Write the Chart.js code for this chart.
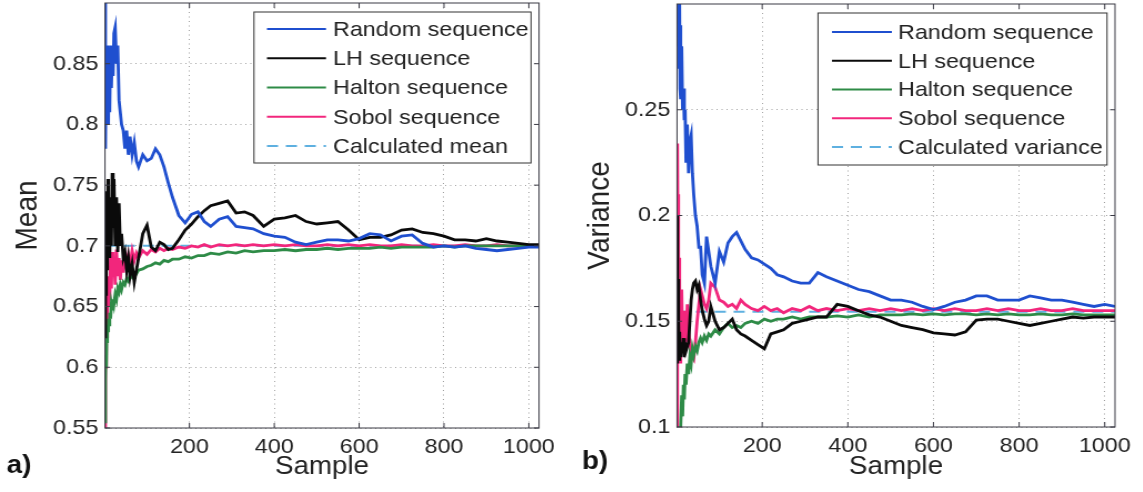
<!DOCTYPE html>
<html>
<head>
<meta charset="utf-8">
<script src="https://cdn.jsdelivr.net/npm/chart.js@4.4.1/dist/chart.umd.min.js"></script>
<style>
  html, body { margin: 0; padding: 0; background: #fff; }
  #wrap { position: relative; width: 1143px; height: 492px; overflow: hidden; }
  canvas { position: absolute; top: 0; transform-origin: 0 0; transform: scaleX(1.11); }
</style>
</head>
<body>
<div id="wrap">
  <canvas id="meanChart" width="505" height="492" style="left:0;width:505px;height:492px"></canvas>
  <canvas id="varChart" width="516" height="492" style="left:570px;width:516px;height:492px"></canvas>
</div>
<script>
const sampleIdx = [1, 2, 3, 4, 5, 6, 7, 8, 9, 10,
  12, 14, 16, 18, 20, 22,
  25, 28, 31, 34, 37, 40,
  44, 48, 52, 56, 60,
  65, 70, 75, 80,
  90, 100, 110, 120, 130, 140, 150, 160,
  175, 190, 205, 220, 235, 250,
  270, 290, 310, 330, 350,
  375, 400, 425, 450, 475, 500, 525, 550, 575, 600, 625, 650, 675,
  700, 725, 750, 775, 800, 825, 850, 875, 900, 925, 950, 975, 1000,
  1024];

const sampleTicks = [200, 400, 600, 800, 1000];

// a) running mean
const meanRandom = [0.92, 0.78, 0.83, 0.80, 0.86, 0.81, 0.865, 0.82, 0.80, 0.85,
  0.81, 0.865, 0.83, 0.86, 0.84, 0.875,
  0.88, 0.85, 0.865, 0.82, 0.81, 0.80,
  0.795, 0.78, 0.795, 0.775, 0.79,
  0.775, 0.785, 0.77, 0.765,
  0.775, 0.77, 0.772, 0.78, 0.775, 0.765, 0.752, 0.74,
  0.725, 0.719, 0.726, 0.728, 0.72, 0.716,
  0.722, 0.724, 0.716, 0.715, 0.714,
  0.71, 0.708, 0.707, 0.703, 0.701, 0.703, 0.705, 0.705, 0.704, 0.706, 0.710, 0.709, 0.704,
  0.708, 0.709, 0.702, 0.699, 0.700, 0.699, 0.700, 0.698, 0.697, 0.696, 0.697, 0.698, 0.699,
  0.699];
const meanLH = [0.625, 0.70, 0.66, 0.745, 0.69, 0.72, 0.68, 0.755, 0.71, 0.73,
  0.69, 0.74, 0.70, 0.76, 0.715, 0.755,
  0.70, 0.74, 0.695, 0.735, 0.70, 0.71,
  0.69, 0.695, 0.68, 0.69, 0.675,
  0.685, 0.67, 0.68, 0.69,
  0.71, 0.717, 0.699, 0.696, 0.703, 0.701, 0.697, 0.698,
  0.705, 0.713, 0.718, 0.724, 0.729, 0.733,
  0.735, 0.737, 0.727, 0.728, 0.725,
  0.716, 0.722, 0.723, 0.725, 0.72, 0.718, 0.719, 0.72, 0.713, 0.705, 0.707, 0.707, 0.709,
  0.713, 0.714, 0.711, 0.71, 0.708, 0.705, 0.705, 0.704, 0.706, 0.704, 0.703, 0.702, 0.701,
  0.701];
const meanHalton = [0.555, 0.59, 0.61, 0.60, 0.625, 0.62, 0.635, 0.63, 0.64, 0.635,
  0.645, 0.64, 0.652, 0.648, 0.656, 0.652,
  0.66, 0.656, 0.665, 0.662, 0.668, 0.664,
  0.67, 0.668, 0.673, 0.671, 0.676,
  0.674, 0.678, 0.677, 0.68,
  0.681, 0.683, 0.684, 0.686, 0.685, 0.688, 0.687, 0.689,
  0.689, 0.691, 0.690, 0.692, 0.692, 0.694,
  0.693, 0.695, 0.694, 0.696, 0.695,
  0.696, 0.696, 0.697, 0.696, 0.697, 0.697, 0.698, 0.697, 0.698, 0.698, 0.698, 0.699, 0.698,
  0.699, 0.699, 0.699, 0.699, 0.700, 0.699, 0.700, 0.700, 0.700, 0.700, 0.700, 0.700, 0.700,
  0.700];
const meanSobol = [0.55, 0.62, 0.60, 0.64, 0.625, 0.66, 0.64, 0.675, 0.65, 0.67,
  0.655, 0.69, 0.665, 0.695, 0.675, 0.69,
  0.668, 0.697, 0.675, 0.69, 0.672, 0.688,
  0.678, 0.695, 0.682, 0.692, 0.685,
  0.696, 0.688, 0.694, 0.69,
  0.696, 0.693, 0.697, 0.695, 0.698, 0.696, 0.698, 0.697,
  0.699, 0.698, 0.700, 0.699, 0.701, 0.699,
  0.701, 0.700, 0.701, 0.700, 0.701,
  0.700, 0.701, 0.700, 0.701, 0.700, 0.700, 0.701, 0.700, 0.701, 0.700, 0.701, 0.700, 0.700,
  0.701, 0.700, 0.700, 0.701, 0.700, 0.700, 0.701, 0.700, 0.700, 0.701, 0.700, 0.700, 0.700,
  0.700];
const calcMean = 0.70;
const meanTicks = [0.55, 0.6, 0.65, 0.7, 0.75, 0.8, 0.85];
const meanTickLabels = ['0.55', '0.6', '0.65', '0.7', '0.75', '0.8', '0.85'];

// b) running variance
const varRandom = [0.34, 0.30, 0.33, 0.28, 0.31, 0.27, 0.30, 0.26, 0.29, 0.255,
  0.28, 0.25, 0.26, 0.245, 0.25, 0.225,
  0.243, 0.22, 0.235, 0.238, 0.22, 0.21,
  0.20, 0.195, 0.185, 0.185, 0.172,
  0.168, 0.19, 0.183, 0.176,
  0.168, 0.183, 0.178, 0.187, 0.19, 0.192, 0.188, 0.184,
  0.18, 0.179, 0.177, 0.175, 0.172, 0.171,
  0.169, 0.168, 0.168, 0.173, 0.171,
  0.169, 0.167, 0.165, 0.164, 0.162, 0.160, 0.160, 0.159, 0.157, 0.1555, 0.157, 0.159, 0.160,
  0.162, 0.162, 0.160, 0.160, 0.160, 0.162, 0.161, 0.160, 0.160, 0.159, 0.158, 0.157, 0.158,
  0.157];
const varLH = [0.20, 0.13, 0.17, 0.135, 0.15, 0.132, 0.145, 0.135, 0.14, 0.133,
  0.14, 0.135, 0.142, 0.133, 0.14, 0.136,
  0.138, 0.14, 0.15, 0.16, 0.165, 0.168,
  0.169, 0.165, 0.167, 0.16, 0.155,
  0.151, 0.148, 0.15, 0.157,
  0.15, 0.146, 0.147, 0.149, 0.151, 0.146, 0.144, 0.143,
  0.141, 0.139, 0.137, 0.144, 0.145, 0.146,
  0.149, 0.150, 0.151, 0.152, 0.152,
  0.158, 0.157, 0.155, 0.153, 0.152, 0.150, 0.148, 0.147, 0.146, 0.1445, 0.144, 0.1435, 0.145,
  0.1505, 0.151, 0.151, 0.150, 0.149, 0.148, 0.149, 0.150, 0.151, 0.152, 0.1515, 0.152, 0.152,
  0.152];
const varHalton = [0.06, 0.07, 0.075, 0.08, 0.085, 0.09, 0.092, 0.095, 0.098, 0.10,
  0.115, 0.105, 0.12, 0.113, 0.125, 0.12,
  0.13, 0.125, 0.133, 0.13, 0.137, 0.134,
  0.138, 0.136, 0.14, 0.142, 0.14,
  0.143, 0.141, 0.144, 0.143,
  0.146, 0.144, 0.147, 0.149, 0.147, 0.148, 0.147, 0.149,
  0.150, 0.149, 0.151, 0.150, 0.151, 0.151,
  0.152, 0.151, 0.152, 0.152, 0.152,
  0.1525, 0.152, 0.153, 0.152, 0.153, 0.153, 0.153, 0.1535, 0.153, 0.1535, 0.153, 0.1535, 0.1535,
  0.153, 0.1535, 0.153, 0.1535, 0.153, 0.153, 0.1535, 0.153, 0.153, 0.1535, 0.153, 0.153, 0.153,
  0.153];
const varSobol = [0.10, 0.234, 0.19, 0.21, 0.16, 0.18, 0.14, 0.16, 0.13, 0.15,
  0.165, 0.14, 0.155, 0.135, 0.15, 0.14,
  0.158, 0.145, 0.14, 0.135, 0.133, 0.132,
  0.14, 0.15, 0.158, 0.165, 0.162,
  0.158, 0.156, 0.16, 0.168,
  0.166, 0.160, 0.159, 0.157, 0.158, 0.156, 0.160, 0.158,
  0.156, 0.155, 0.157, 0.155, 0.156, 0.154,
  0.156, 0.155, 0.157, 0.155, 0.156,
  0.155, 0.156, 0.155, 0.156, 0.155, 0.156, 0.155, 0.156, 0.155, 0.156, 0.155, 0.156, 0.155,
  0.155, 0.156, 0.155, 0.156, 0.155, 0.155, 0.156, 0.155, 0.155, 0.156, 0.155, 0.155, 0.155,
  0.155];
const calcVar = 0.1545;
const varTicks = [0.1, 0.15, 0.2, 0.25];
const varTickLabels = ['0.1', '0.15', '0.2', '0.25'];

const FONT = '"Liberation Sans", Arial, Helvetica, sans-serif';
const INK = '#222';
Chart.defaults.font.family = FONT;
Chart.defaults.color = INK;

// matlab style box, inner ticks, legend box and panel letter
const matlabFrame = {
  id: 'matlabFrame',
  afterDraw(chart, args, o) {
    const { ctx, chartArea: a, scales } = chart;
    ctx.save();
    ctx.strokeStyle = '#3a3a44';
    ctx.lineWidth = 1;
    ctx.strokeRect(a.left, a.top, a.right - a.left, a.bottom - a.top);
    ctx.beginPath();
    scales.x.ticks.forEach(t => {
      const px = scales.x.getPixelForValue(t.value);
      ctx.moveTo(px, a.bottom); ctx.lineTo(px, a.bottom - 5);
      ctx.moveTo(px, a.top); ctx.lineTo(px, a.top + 5);
    });
    scales.y.ticks.forEach(t => {
      const py = scales.y.getPixelForValue(t.value);
      ctx.moveTo(a.left, py); ctx.lineTo(a.left + 4.5, py);
      ctx.moveTo(a.right, py); ctx.lineTo(a.right - 4.5, py);
    });
    ctx.stroke();

    const lg = o.legend;
    ctx.fillStyle = '#fff';
    ctx.fillRect(lg.x, lg.y, lg.w, lg.h);
    ctx.strokeStyle = '#333';
    ctx.strokeRect(lg.x, lg.y, lg.w, lg.h);
    ctx.font = '21px ' + FONT;
    ctx.textBaseline = 'middle';
    chart.data.datasets.forEach((ds, i) => {
      const y = lg.y + lg.first + i * lg.step;
      ctx.strokeStyle = ds.borderColor;
      ctx.lineWidth = 2;
      ctx.setLineDash(ds.borderDash || []);
      ctx.beginPath(); ctx.moveTo(lg.x1, y); ctx.lineTo(lg.x2, y); ctx.stroke();
      ctx.setLineDash([]);
      ctx.fillStyle = INK;
      ctx.fillText(ds.label, lg.tx, y + 1);
    });

    ctx.font = 'bold 25px ' + FONT;
    ctx.fillStyle = '#111';
    ctx.fillText(o.tag, o.tagX, o.tagY);
    ctx.restore();
  }
};

function series(label, values, color) {
  return {
    label,
    data: values.map((v, i) => ({ x: sampleIdx[i], y: v })),
    borderColor: color, borderWidth: 2.8, pointRadius: 0, tension: 0, clip: 0
  };
}

function panel(canvasId, p) {
  const first = sampleIdx[0], last = sampleIdx[sampleIdx.length - 1];
  return new Chart(document.getElementById(canvasId), {
    type: 'line',
    data: {
      datasets: [
        series('Random sequence', p.random, '#1f4fcf'),
        series('LH sequence', p.lh, '#0a0a0a'),
        series('Halton sequence', p.halton, '#2e8b47'),
        series('Sobol sequence', p.sobol, '#f2267c'),
        {
          label: p.calcLabel,
          data: [{ x: first, y: p.calc }, { x: last, y: p.calc }],
          borderColor: '#5eb0e0', borderWidth: 2, borderDash: [10, 7], pointRadius: 0, clip: 0
        }
      ]
    },
    options: {
      responsive: false,
      animation: false,
      layout: { padding: { left: 0, top: p.padTop, right: p.padRight, bottom: 0 } },
      plugins: {
        legend: { display: false },
        tooltip: { enabled: false },
        matlabFrame: p.frame
      },
      scales: {
        x: {
          type: 'linear', min: 1, max: 1024,
          afterBuildTicks: s => { s.ticks = sampleTicks.map(v => ({ value: v })); },
          afterFit: s => { s.height = p.xAxisH; s.paddingLeft = 0; s.paddingRight = 0; },
          grid: { color: '#a0a0a0', lineWidth: 1, drawTicks: false },
          border: { display: false, dash: [1, 3.5] },
          ticks: { autoSkip: false, maxRotation: 0, padding: 7, font: { size: 21 }, callback: v => String(v) },
          title: { display: true, text: 'Sample', font: { size: 25 }, padding: { top: 0, bottom: 10 } }
        },
        y: {
          min: p.yMin, max: p.yMax,
          afterBuildTicks: s => { s.ticks = p.yTicks.map(v => ({ value: v })); },
          afterFit: s => { s.width = p.yAxisW; s.paddingTop = 0; s.paddingBottom = 0; },
          grid: { color: '#a0a0a0', lineWidth: 1, drawTicks: false },
          border: { display: false, dash: [1, 3.5] },
          ticks: { autoSkip: false, padding: 6, font: { size: 21 }, callback: (v, i) => p.yLabels[i] },
          title: { display: true, text: p.yTitle, font: { size: 28 }, padding: { top: p.yTitlePad, bottom: 0 } }
        }
      }
    },
    plugins: [matlabFrame]
  });
}

panel('meanChart', {
  random: meanRandom, lh: meanLH, halton: meanHalton, sobol: meanSobol,
  calc: calcMean, calcLabel: 'Calculated mean',
  yMin: 0.55, yMax: 0.9, yTicks: meanTicks, yLabels: meanTickLabels, yTitle: 'Mean', yTitlePad: 8,
  padTop: 3, padRight: 19.4, xAxisH: 64, yAxisW: 94.6,
  frame: {
    legend: { x: 228.8, y: 12, w: 249.6, h: 151, first: 17, step: 29.25, x1: 240.5, x2: 293.7, tx: 300 },
    tag: 'a)', tagX: 6, tagY: 466
  }
});

panel('varChart', {
  random: varRandom, lh: varLH, halton: varHalton, sobol: varSobol,
  calc: calcVar, calcLabel: 'Calculated variance',
  yMin: 0.1, yMax: 0.3, yTicks: varTicks, yLabels: varTickLabels, yTitle: 'Variance', yTitlePad: 10,
  padTop: 4, padRight: 25, xAxisH: 65, yAxisW: 96.4,
  frame: {
    legend: { x: 223.4, y: 13, w: 260.4, h: 152, first: 19, step: 28.75, x1: 236, x2: 290, tx: 295.5 },
    tag: 'b)', tagX: 10.8, tagY: 462
  }
});
</script>
</body>
</html>
